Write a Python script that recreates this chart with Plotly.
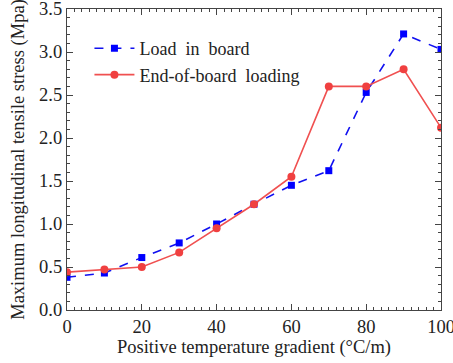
import plotly.graph_objects as go

x_vals = [0, 10, 20, 30, 40, 50, 60, 70, 80, 90, 100]
load_in_board = [0.38, 0.43, 0.61, 0.78, 1.00, 1.23, 1.45, 1.62, 2.53, 3.21, 3.03]
end_of_board = [0.44, 0.47, 0.50, 0.67, 0.95, 1.23, 1.55, 2.60, 2.60, 2.80, 2.12]

font_family = "'Liberation Serif', 'DejaVu Serif', serif"

fig = go.Figure()
fig.add_trace(go.Scatter(
    x=x_vals, y=load_in_board, mode="lines+markers", name="Load  in  board",
    line=dict(color="#1010F0", width=1.6, dash="dash"),
    marker=dict(symbol="square", size=7, color="#0000FF"),
))
fig.add_trace(go.Scatter(
    x=x_vals, y=end_of_board, mode="lines+markers", name="End-of-board  loading",
    line=dict(color="#F05050", width=1.6),
    marker=dict(symbol="circle", size=8, color="#F04040"),
))

axis_common = dict(
    showline=True, linecolor="#444444", linewidth=1.2, mirror="allticks",
    ticks="inside", ticklen=6, tickcolor="#444444", tickwidth=1,
    showgrid=False, zeroline=False, ticklabeloverflow="allow", automargin=False,
    tickfont=dict(family=font_family, size=18.5, color="#222222"),
)

fig.update_xaxes(
    range=[0, 100], tick0=0, dtick=20,
    minor=dict(ticks="inside", ticklen=3, dtick=2, tickcolor="#444444", showgrid=False),
    title=dict(text="Positive temperature gradient (°C/m)",
               font=dict(family=font_family, size=18.5, color="#222222"), standoff=2),
    **axis_common,
)
fig.update_yaxes(
    range=[0, 3.5], tick0=0, dtick=0.5, tickformat=".1f",
    minor=dict(ticks="inside", ticklen=3, dtick=0.1, tickcolor="#444444", showgrid=False),
    title=dict(text="Maximum longitudinal tensile stress (Mpa)",
               font=dict(family=font_family, size=18.5, color="#222222"), standoff=9),
    **axis_common,
)

fig.update_layout(
    width=453, height=363,
    margin=dict(l=67, r=12, t=9, b=53),
    paper_bgcolor="white", plot_bgcolor="white",
    showlegend=True,
    legend=dict(x=0.06, y=0.93, xanchor="left", yanchor="top",
                bgcolor="rgba(0,0,0,0)", borderwidth=0,
                font=dict(family=font_family, size=18, color="#222222"),
                tracegroupgap=0, itemwidth=40),
)

fig.write_html("out.html")
